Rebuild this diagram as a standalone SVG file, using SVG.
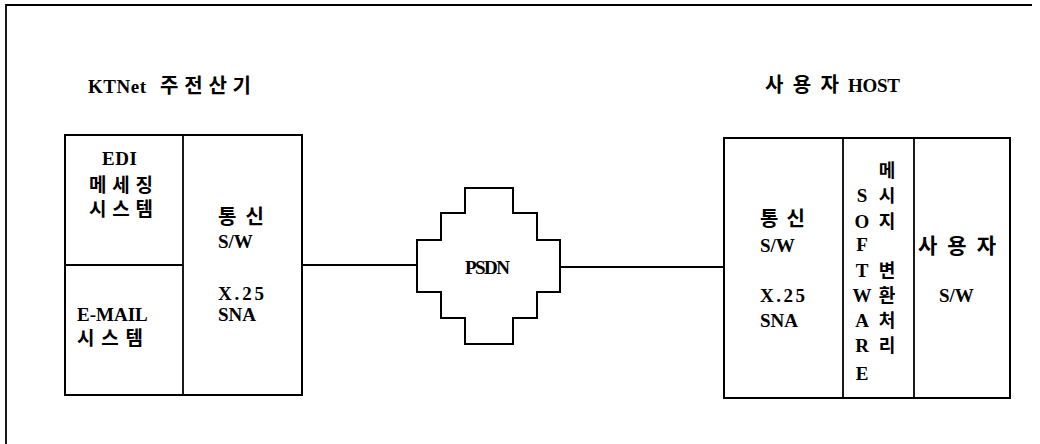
<svg xmlns="http://www.w3.org/2000/svg" width="1040" height="444" viewBox="0 0 1040 444">
<style>
.box{fill:#fff;stroke:#000;stroke-width:2}
.ln{fill:none;stroke:#000;stroke-width:1.8}
.t{font-family:"Liberation Serif","Times New Roman",serif;font-weight:bold;font-size:19px;fill:#000}
.k{font-family:"Noto Sans CJK KR","Noto Sans CJK SC",sans-serif;font-weight:bold;font-size:20px;fill:#000}
.ks{font-size:19px}
.kv{font-size:18px}
</style>
<rect width="1040" height="444" fill="#fff"/>
<g id="frame">
<path class="ln" d="M6,444 V5 H1032"/>
</g>
<g id="titles">
<text class="t" x="88" y="93" textLength="58">KTNet</text>
<text class="k" x="160" y="93" textLength="91">주전산기</text>
<text class="k" x="765" y="92" textLength="74">사용자</text>
<text class="t" x="848" y="92" textLength="52">HOST</text>
</g>
<g id="ktnet">
<rect class="box" x="65" y="135" width="237" height="260"/>
<line class="ln" x1="183" y1="135" x2="183" y2="395"/>
<line class="ln" x1="65" y1="265" x2="183" y2="265"/>
<text class="t" x="102" y="165" textLength="35">EDI</text>
<text class="k ks" x="89" y="192" textLength="64">메세징</text>
<text class="k ks" x="89" y="216" textLength="64">시스템</text>
<text class="t" x="77" y="321">E-MAIL</text>
<text class="k ks" x="77" y="345" textLength="66">시스템</text>
<text class="k" x="218" y="224" textLength="46">통신</text>
<text class="t" x="218" y="248">S/W</text>
<text class="t" x="218" y="300" textLength="46">X.25</text>
<text class="t" x="218" y="321">SNA</text>
</g>
<g id="psdn">
<polygon class="box" points="465,188 513,188 513,213 537,213 537,240 560,240 560,292 537,292 537,318 513,318 513,344 465,344 465,318 441,318 441,292 417,292 417,240 441,240 441,213 465,213"/>
<text class="t" x="465" y="274" textLength="45">PSDN</text>
</g>
<g id="host">
<rect class="box" x="724" y="138" width="286" height="260"/>
<line class="ln" x1="843" y1="138" x2="843" y2="398"/>
<line class="ln" x1="914" y1="138" x2="914" y2="398"/>
<text class="k" x="760" y="226" textLength="45">통신</text>
<text class="t" x="760" y="252">S/W</text>
<text class="t" x="760" y="302" textLength="45">X.25</text>
<text class="t" x="760" y="327">SNA</text>
<text class="t" text-anchor="middle"><tspan x="862" y="202">S</tspan><tspan x="862" y="228">O</tspan><tspan x="862" y="251">F</tspan><tspan x="862" y="277">T</tspan><tspan x="862" y="302">W</tspan><tspan x="862" y="327">A</tspan><tspan x="862" y="352">R</tspan><tspan x="862" y="380">E</tspan></text>
<text class="k kv" text-anchor="middle"><tspan x="887" y="177">메</tspan><tspan x="887" y="202">시</tspan><tspan x="887" y="228">지</tspan><tspan x="887" y="277">변</tspan><tspan x="887" y="302">환</tspan><tspan x="887" y="327">처</tspan><tspan x="887" y="352">리</tspan></text>
<text class="k" style="font-size:21px" x="918" y="253" textLength="78">사용자</text>
<text class="t" x="939" y="302">S/W</text>
</g>
<g id="connectors">
<line class="ln" x1="302" y1="265" x2="417" y2="265"/>
<line class="ln" x1="560" y1="267" x2="724" y2="267"/>
</g>
</svg>
